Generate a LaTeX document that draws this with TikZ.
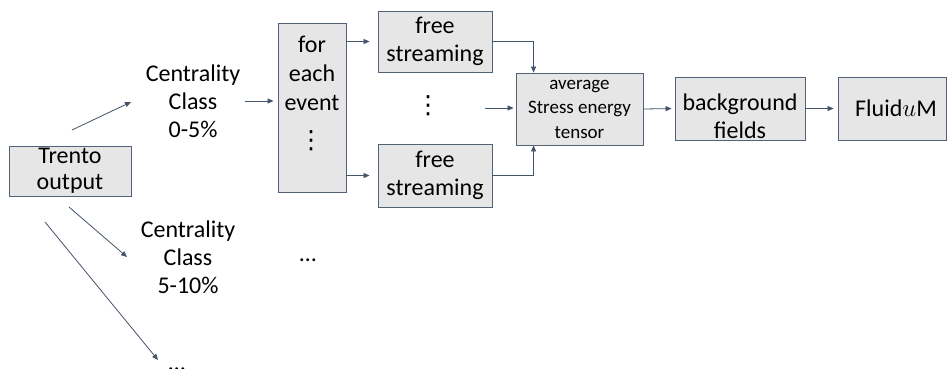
\documentclass[tikz,border=0pt]{standalone}
\usepackage{fontspec}
\setmainfont{Carlito}
\newfontfamily\symfont{DejaVu Sans}
\usetikzlibrary{arrows.meta,calc}
\definecolor{boxfill}{RGB}{231,230,230}
\definecolor{boxline}{RGB}{84,98,120}
\definecolor{arrowc}{RGB}{68,84,106}
\tikzset{
  box/.style={draw=boxline, fill=boxfill, line width=0.9pt, inner sep=0pt, align=center},
  lbl/.style={inner sep=0pt, align=center, font=\fontsize{24}{28}\selectfont},
  vdotsl/.style={inner sep=0pt, font=\symfont\fontsize{25}{25}\selectfont},
  conn/.style={draw=arrowc, line width=0.8pt, -{Triangle[length=6pt,width=5pt]}},
}
\begin{document}
\begin{tikzpicture}[x=1pt,y=-1pt]
\useasboundingbox (0,0) rectangle (947,368);
\clip (0,0) rectangle (947,368);
\fill[white] (0,0) rectangle (947,368);

% source
\node[box, lbl, minimum width=122pt, minimum height=50pt, font=\fontsize{24}{26}\selectfont] (trento) at (70,171) {Trento\\output};

% centrality classes
\node[lbl] (cc1) at (193,101) {Centrality\\Class\\0-5\%};
\node[lbl] (cc2) at (188,257) {Centrality\\Class\\5-10\%};
\node[lbl, anchor=base] (cc3) at (177,370) {\dots};
\node[lbl] (cc2next) at (308,260) {\dots};

% per-event loop
\node[box, minimum width=68pt, minimum height=169pt] (fe) at (312,107.5) {};
\node[lbl, font=\fontsize{24}{29}\selectfont] (fet) at (312,73) {for\\each\\event};
\node[vdotsl] (fedots) at (311,141) {⋮};

% free streaming
\node[box, lbl, minimum width=114pt, minimum height=61pt] (fs1) at (435,41.5) {free\\streaming};
\node[box, lbl, minimum width=114pt, minimum height=63pt] (fs2) at (435,175.5) {free\\streaming};
\node[vdotsl] (fsdots) at (428,106) {⋮};

% averaging and hydro
\node[box, minimum width=127pt, minimum height=72pt, font=\fontsize{19}{24.5}\selectfont] (avg) at (579.5,109) {average\\Stress energy\\tensor};
\node[box, minimum width=130pt, minimum height=63pt] (bg) at (740,108.5) {};
\node[lbl] (bgt) at (740,116) {background\\fields};
\node[box, lbl, minimum width=108pt, minimum height=63pt] (fl) at (892,108.5) {\hspace{8pt}Fluid$u$M};

% connector end points
\coordinate (t1) at (72,130);
\coordinate (c1in) at (131,102);
\coordinate (t2) at (69,207);
\coordinate (c2in) at (127,257);
\coordinate (t3) at (45,222);
\coordinate (c3in) at (158,360);
\coordinate (c1out) at (245,101);
\coordinate (mdout) at (485,108);
\coordinate (avgtop) at ($(avg.north west)+(18,0)$);
\coordinate (avgbot) at ($(avg.south west)+(18,0)$);

% connectors
\draw[conn] (t1) -- (c1in);
\draw[conn] (t2) -- (c2in);
\draw[conn] (t3) -- (c3in);
\draw[conn, shorten >=4pt] (c1out) -- (fe.west |- c1out);
\draw[conn, shorten >=8pt] (fe.east |- fs1) -- (fs1.west);
\draw[conn, shorten >=8pt] (fe.east |- fs2) -- (fs2.west);
\draw[conn] (fs1.east) -| (avgtop);
\draw[conn] (fs2.east) -| (avgbot);
\draw[conn, shorten >=2pt] (mdout) -- (avg.west |- mdout);
\draw[conn, shorten >=3pt] (avg.east) -- (bg.west);
\draw[conn, shorten >=4pt] (bg.east) -- (fl.west);
\end{tikzpicture}
\end{document}
